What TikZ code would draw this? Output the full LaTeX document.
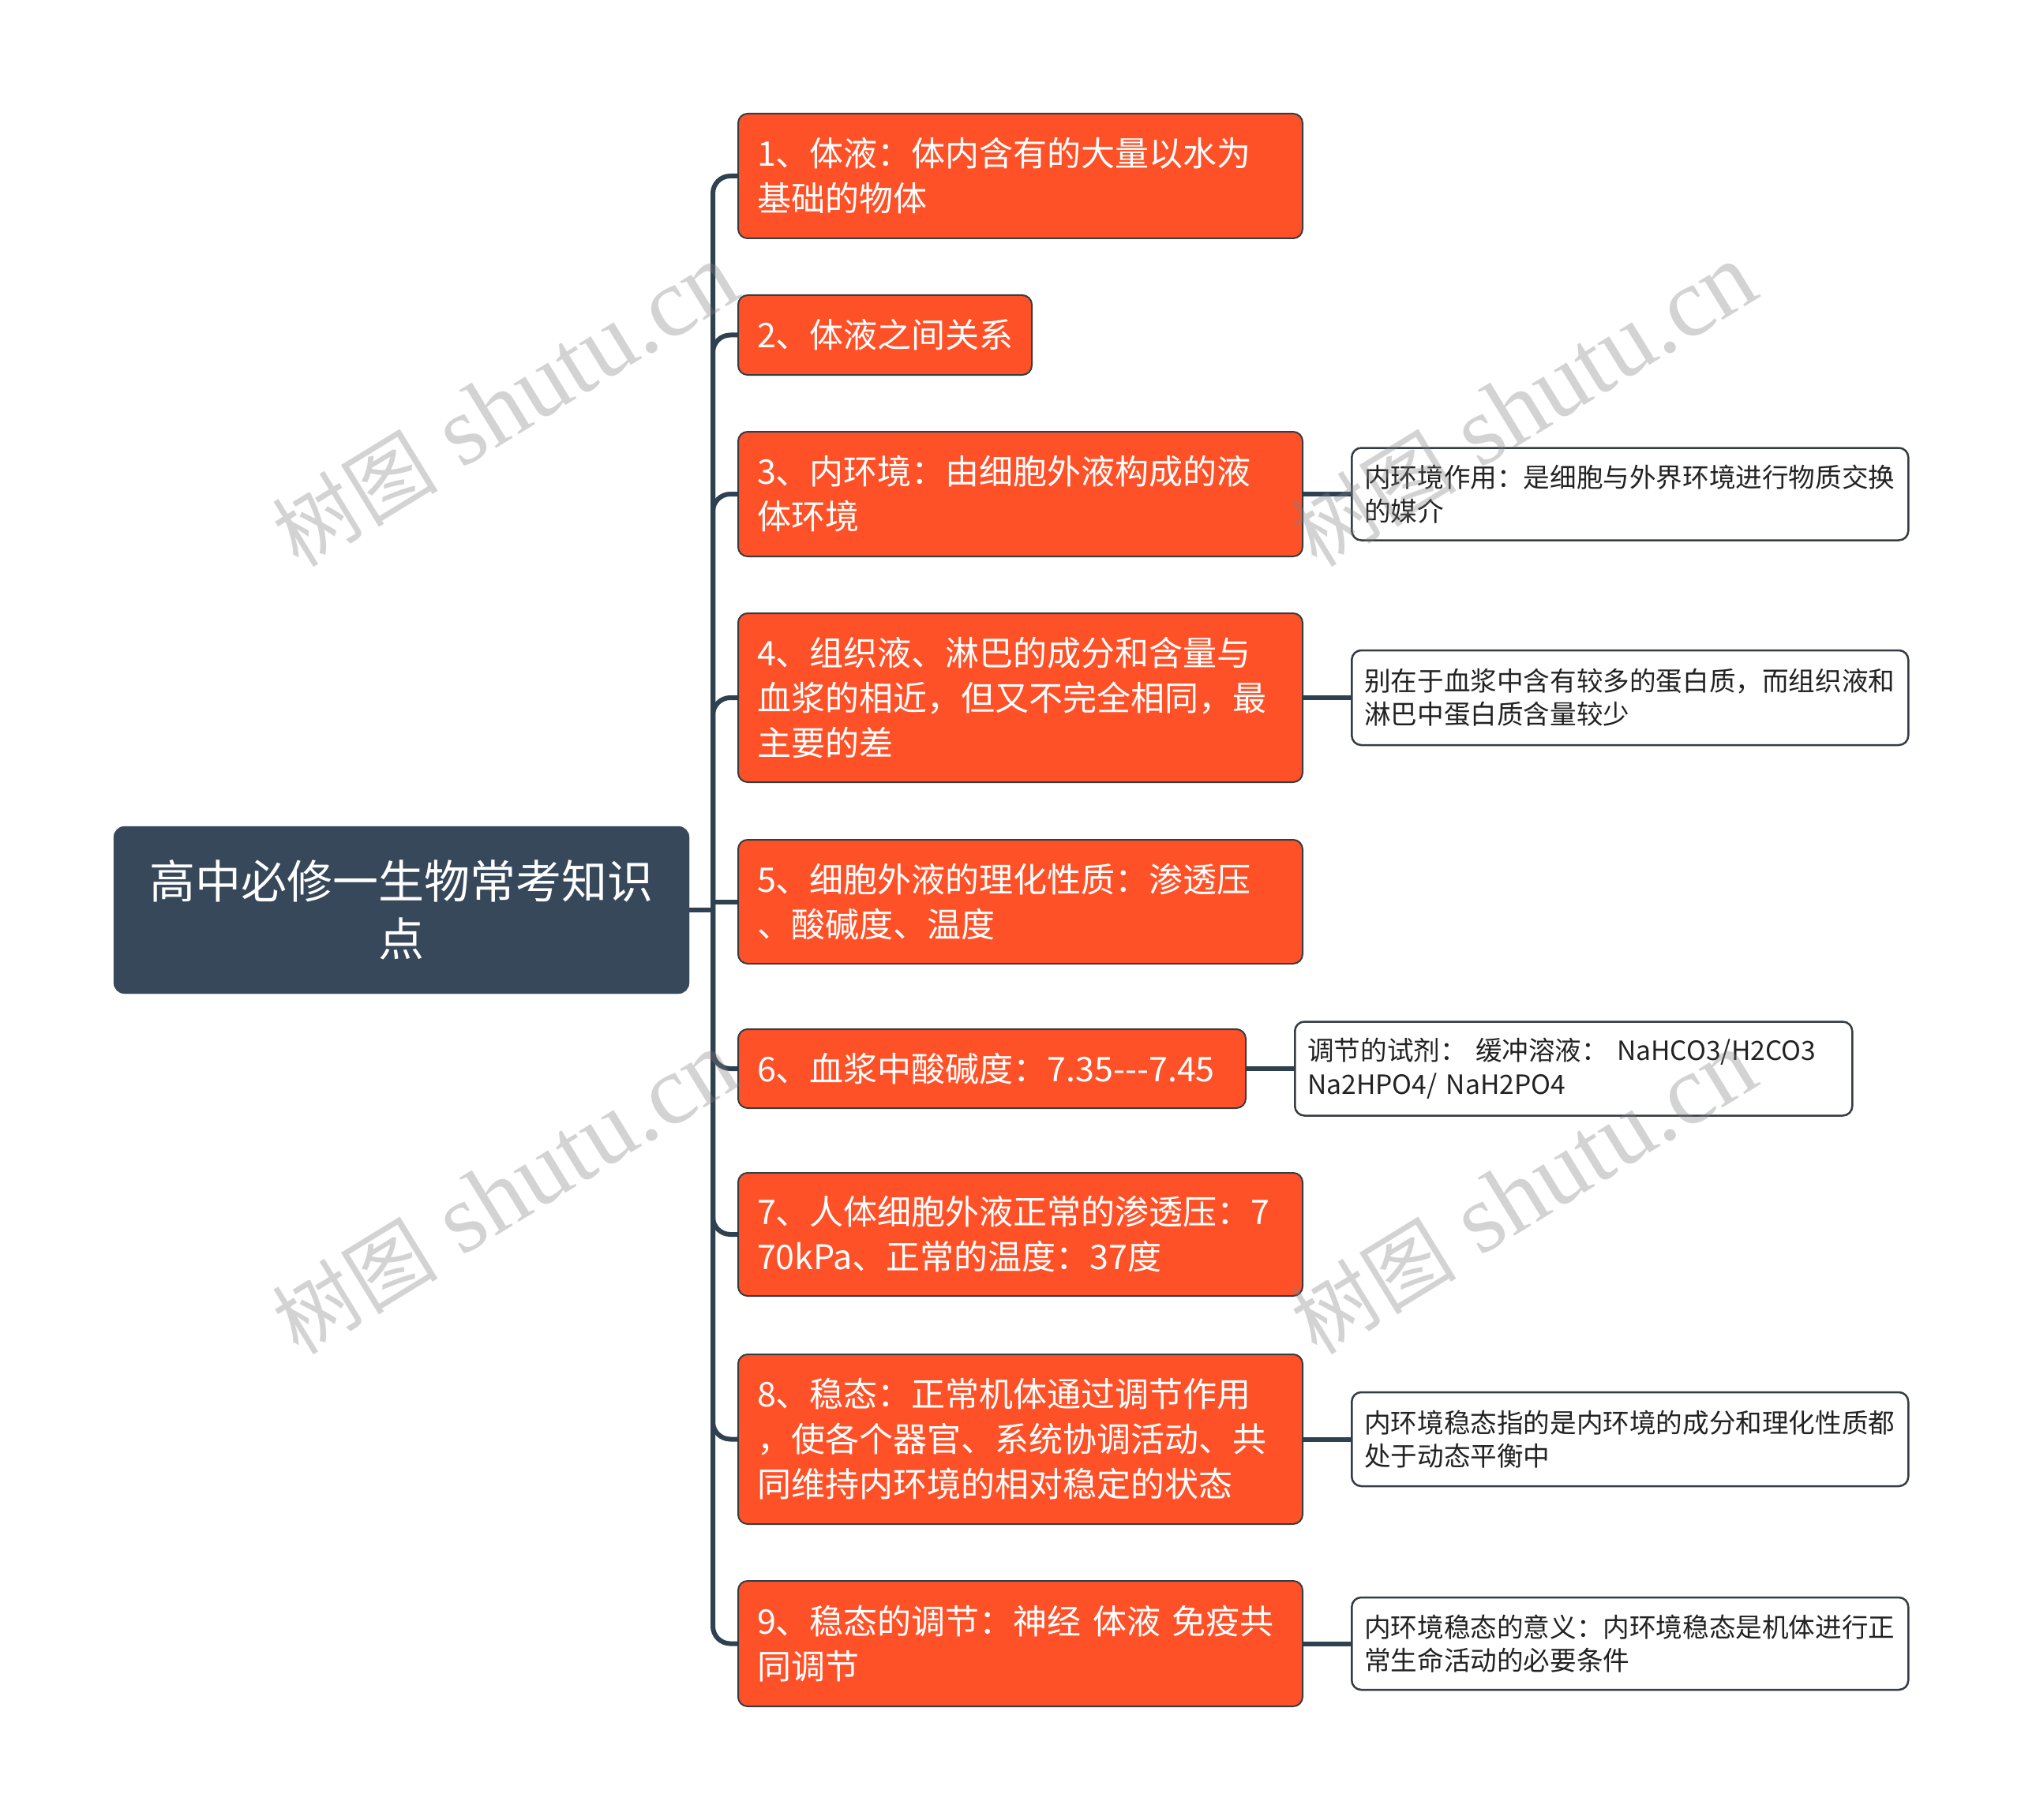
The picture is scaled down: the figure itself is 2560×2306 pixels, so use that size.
\documentclass[tikz,border=0pt]{standalone}
\usepackage{fontspec}
\newfontfamily\cjk{Noto Sans CJK SC}
\newfontfamily\wmserif{Liberation Serif}
\definecolor{orangec}{HTML}{FF5128}
\definecolor{rootc}{HTML}{36485A}
\definecolor{linec}{HTML}{2F4050}
\definecolor{borderc}{HTML}{343C44}
\definecolor{leaftext}{HTML}{222222}
\begin{document}
\begin{tikzpicture}[x=1pt,y=-1pt,
  rootbox/.style={fill=rootc, draw=rootc, rounded corners=14pt, text=white, align=center, inner sep=0pt,
    font=\cjk\fontsize{58}{73.5}\selectfont},
  topic/.style={draw=borderc, line width=2pt, fill=orangec, rounded corners=12pt, text=white, anchor=west,
    inner xsep=24pt, inner ysep=0pt, align=left, font=\cjk\fontsize{43}{57}\selectfont},
  leaf/.style={draw=borderc, line width=2.5pt, fill=white, rounded corners=12pt, text=leaftext, anchor=west,
    inner xsep=16pt, inner ysep=0pt, align=left, font=\cjk\fontsize{33.6}{42.5}\selectfont},
  conn/.style={draw=linec, line width=6pt},
  curvedlink/.style={rounded corners=22pt},
  wm/.style={text=gray, opacity=0.34, rotate=31.5, inner sep=0pt}
]
\useasboundingbox (0,0) rectangle (2560,2306);
\fill[white] (0,0) rectangle (2560,2306);

% root
\node[rootbox, minimum width=729pt, minimum height=212pt, text width=700pt] (root) at (508.5,1153)
  {高中必修一生物常考知识\\点};
\coordinate (hub) at (903,1153);

% topics
\node[topic, minimum width=715pt, text width=667pt, minimum height=158pt] (n1) at (934,223)
  {1、体液：体内含有的大量以水为\\基础的物体};
\node[topic, minimum width=372pt, text width=324pt, minimum height=101pt] (n2) at (934,424.5)
  {2、体液之间关系};
\node[topic, minimum width=715pt, text width=667pt, minimum height=158pt] (n3) at (934,626)
  {3、内环境：由细胞外液构成的液\\体环境};
\node[topic, minimum width=715pt, text width=667pt, minimum height=214pt] (n4) at (934,884)
  {4、组织液、淋巴的成分和含量与\\血浆的相近，但又不完全相同，最\\主要的差};
\node[topic, minimum width=715pt, text width=667pt, minimum height=157pt] (n5) at (934,1142.5)
  {5、细胞外液的理化性质：渗透压\\、酸碱度、温度};
\node[topic, minimum width=643pt, text width=595pt, minimum height=100pt] (n6) at (934,1354)
  {6、血浆中酸碱度：7.35---7.45};
\node[topic, minimum width=715pt, text width=667pt, minimum height=156pt] (n7) at (934,1564)
  {7、人体细胞外液正常的渗透压：7\\70kPa、正常的温度：37度};
\node[topic, minimum width=715pt, text width=667pt, minimum height=215pt] (n8) at (934,1823.5)
  {8、稳态：正常机体通过调节作用\\，使各个器官、系统协调活动、共\\同维持内环境的相对稳定的状态};
\node[topic, minimum width=715pt, text width=667pt, minimum height=159pt] (n9) at (934,2082.5)
  {9、稳态的调节：神经~体液~免疫共\\同调节};

% leaves
\node[leaf, minimum width=705pt, text width=673pt, minimum height=117pt] (l3) at (1711,626)
  {内环境作用：是细胞与外界环境进行物质交换\\的媒介};
\node[leaf, minimum width=705pt, text width=673pt, minimum height=120pt] (l4) at (1711,884)
  {别在于血浆中含有较多的蛋白质，而组织液和\\淋巴中蛋白质含量较少};
\node[leaf, minimum width=706pt, text width=674pt, minimum height=119pt] (l6) at (1639,1354)
  {调节的试剂：~缓冲溶液：~NaHCO3/H2CO3\\Na2HPO4/~NaH2PO4};
\node[leaf, minimum width=705pt, text width=673pt, minimum height=119pt] (l8) at (1711,1823.5)
  {内环境稳态指的是内环境的成分和理化性质都\\处于动态平衡中};
\node[leaf, minimum width=705pt, text width=673pt, minimum height=117pt] (l9) at (1711,2082.5)
  {内环境稳态的意义：内环境稳态是机体进行正\\常生命活动的必要条件};

% connectors
\draw[conn] (root.east) -- (hub);
\draw[conn,curvedlink] (hub) |- (n1.west);
\draw[conn,curvedlink] (hub) |- (n2.west);
\draw[conn,curvedlink] (hub) |- (n3.west);
\draw[conn,curvedlink] (hub) |- (n4.west);
\draw[conn] (hub |- n5.west) -- (n5.west);
\draw[conn,curvedlink] (hub) |- (n6.west);
\draw[conn,curvedlink] (hub) |- (n7.west);
\draw[conn,curvedlink] (hub) |- (n8.west);
\draw[conn,curvedlink] (hub) |- (n9.west);
\draw[conn] (n3.east) -- (l3.west);
\draw[conn] (n4.east) -- (l4.west);
\draw[conn] (n6.east) -- (l6.west);
\draw[conn] (n8.east) -- (l8.west);
\draw[conn] (n9.east) -- (l9.west);

% watermarks
\node[wm] (w1) at (640,514) {\cjk\fontsize{105}{105}\selectfont 树图\wmserif\fontsize{125}{125}\selectfont~shutu.cn};
\node[wm] (w2) at (1930,514) {\cjk\fontsize{105}{105}\selectfont 树图\wmserif\fontsize{125}{125}\selectfont~shutu.cn};
\node[wm] (w3) at (640,1512) {\cjk\fontsize{105}{105}\selectfont 树图\wmserif\fontsize{125}{125}\selectfont~shutu.cn};
\node[wm] (w4) at (1930,1512) {\cjk\fontsize{105}{105}\selectfont 树图\wmserif\fontsize{125}{125}\selectfont~shutu.cn};
\end{tikzpicture}
\end{document}
